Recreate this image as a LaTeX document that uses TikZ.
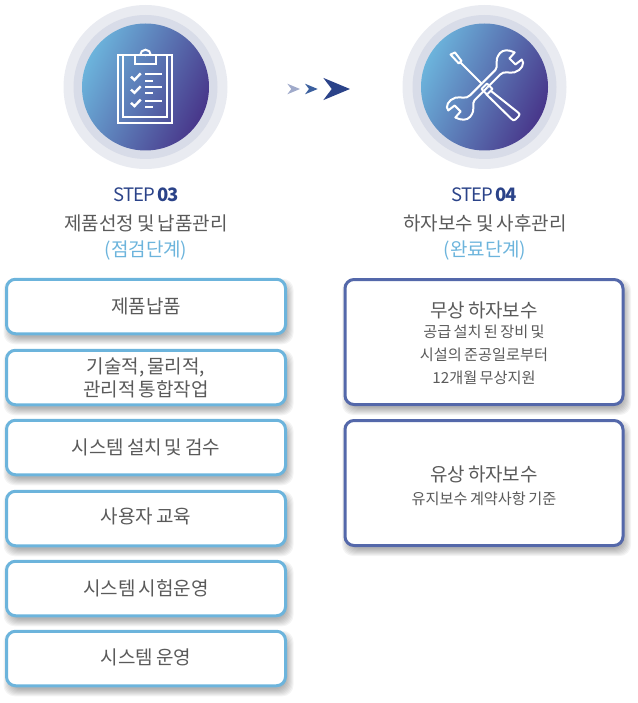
\documentclass[tikz,border=0pt]{standalone}
\usepackage{fontspec}
\setmainfont[WordSpace=0.7]{Noto Sans CJK KR}
\usetikzlibrary{positioning}
\usetikzlibrary{calc}
\usetikzlibrary{backgrounds}
\definecolor{skyblue}{RGB}{108,180,220}
\definecolor{deepblue}{RGB}{43,67,137}
\definecolor{steelblue}{RGB}{84,104,170}
\definecolor{indigo}{RGB}{72,54,138}
\definecolor{midblue}{RGB}{90,112,172}
\definecolor{bodygray}{RGB}{90,90,90}
\definecolor{ringout}{RGB}{233,235,241}
\definecolor{ringin}{RGB}{216,220,232}
\tikzset{
    itemtext/.style={text=bodygray, font=\fontsize{19}{23}\selectfont, align=center, inner sep=0pt},
    leftbox/.style={itemtext, draw=skyblue, fill=white, line width=3pt, rounded corners=9pt, minimum width=279pt, minimum height=54.5pt},
    rightbox/.style={itemtext, draw=steelblue, fill=white, line width=3pt, rounded corners=9pt, minimum width=278pt, minimum height=125pt},
    steptitle/.style={text=deepblue, font=\fontsize{18.5}{20}\selectfont\addfontfeature{LetterSpace=-3.8}, inner sep=0pt},
    phasetitle/.style={text=bodygray, font=\fontsize{19}{22}\selectfont, inner sep=0pt},
    phasenote/.style={text=skyblue, font=\fontsize{19}{22}\selectfont, inner sep=0pt},
    iconline/.style={draw=white, line width=2pt, line join=miter},
    toolline/.style={draw=white, line width=2pt, line join=round}
}
\newcommand{\smalltext}{\fontsize{15.2}{22}\selectfont}
\newcommand{\lifted}[2][2pt]{\raisebox{#1}[\height][\depth]{#2}}
\begin{document}
\begin{tikzpicture}[x=1pt, y=-1pt]
    \useasboundingbox (0,0) rectangle (637,703);

    % Draw badges
    \foreach \cx/\name in {145.5/badgeA, 484.5/badgeB} {
        \fill[ringout] (\cx,87) circle (82pt);
        \fill[ringin] (\cx,87) circle (72pt);
        \shade[left color=skyblue, middle color=midblue, right color=indigo, shading angle=65] (\cx,87) circle (63.5pt);
    }

    % Clipboard
    \draw[iconline] (118.3,55.3) rectangle (172.3,122.7);
    \draw[iconline] (123.3,55.3) -- (123.3,116.7) -- (167.3,116.7) -- (167.3,55.3);
    \draw[iconline] (135.2,55.3) rectangle (155.8,64.5);
    \draw[iconline] (140.2,55) arc (180:0:5.3pt);
    \fill[white] (145.5,55.5) circle (1pt);
    \foreach \y in {76.7,89.6,102.9} {
        \draw[iconline, line width=2.4pt] (131,\y) -- (134.5,\y+3.2) -- (140.7,\y-3.3);
        \draw[iconline] (145,\y-2.2) -- (161.7,\y-2.2);
        \draw[iconline] (145,\y+3.9) -- (153,\y+3.9);
    }

    % Wrench
    \foreach \a in {45,225} {
        \draw[toolline, shift={(485,85)}, rotate=\a] (0,-3.3) -- (18,-3.3)
            .. controls (23,-3.3) and (23,-11) .. (33,-12)
            .. controls (38,-12.5) and (42,-8) .. (44,-2) -- (36,-1.5) -- (36,7) -- (44,8)
            .. controls (44,13) and (36,15.5) .. (30,12)
            .. controls (25,9) and (24,3.3) .. (18,3.3) -- (0,3.3);
    }
    % Screwdriver
    \draw[toolline] (450.5,54.5) -- (455,52.5) -- (461.5,61) -- (458.8,63.5) -- cycle;
    \draw[toolline] (460.2,62.3) -- (482,84);
    \draw[toolline] (481.5,89) -- (487,83.5) -- (492.5,89) -- (487,94.5) -- cycle;
    \draw[toolline] (491,91) -- (517.5,112) .. controls (520,114) and (520,115) .. (518.5,116.5) -- (515.5,119.5)
        .. controls (514,121) and (513,120.5) .. (511,118.5) -- (486,94);

    % Draw arrows
    \foreach \x/\s/\c in {287.3/1/deepblue!45, 305/1/deepblue!75!skyblue, 323.3/2.1/deepblue} {
        \fill[\c] (\x,89-5.3*\s) -- (\x+12.7*\s,89) -- (\x,89+5.3*\s) -- (\x+4*\s,89) -- cycle;
    }

    % Headings
    \node[steptitle] (stepA) at (146,194.5) {STEP \textbf{03}};
    \node[phasetitle] (phaseA) at (146,223) {제품선정 및 납품관리};
    \node[phasenote] (noteA) at (146,251) {(점검단계)};
    \node[steptitle] (stepB) at (484,194.5) {STEP \textbf{04}};
    \node[phasetitle] (phaseB) at (485,223) {하자보수 및 사후관리};
    \node[phasenote] (noteB) at (485,251) {(완료단계)};

    % Item boxes
    \node[leftbox] (itemA) at (146,306.5) {제품납품};
    \node[leftbox] (itemB) at (146,377.5) {기술적, 물리적,\\관리적 통합작업};
    \node[leftbox] (itemC) at (146,447.5) {시스템 설치 및 검수};
    \node[leftbox] (itemD) at (146,518.5) {\lifted{사용자 교육}};
    \node[leftbox] (itemE) at (146,588.5) {시스템 시험운영};
    \node[leftbox] (itemF) at (146,658.5) {\lifted[1pt]{시스템 운영}};
    \node[rightbox] (itemG) at (484,342) {\lifted[-2.5pt]{무상 하자보수}\\\smalltext 공급 설치 된 장비 및\\\smalltext 시설의 준공일로부터\\\smalltext 12개월 무상지원};
    \node[rightbox] (itemH) at (484,483) {\lifted[-3pt]{유상 하자보수}\\\smalltext \lifted[-3pt]{유지보수 계약사항 기준}};

    % Soft shadows
    \begin{scope}[on background layer]
        \foreach \n in {itemA,itemB,itemC,itemD,itemE,itemF,itemG,itemH} {
            \foreach \g in {-3,-2,...,4} {
                \fill[black, opacity=0.045, rounded corners=11pt]
                    ($(\n.north west)+(2.5-\g,5-\g)$) rectangle ($(\n.south east)+(2.5+\g,5+\g)$);
            }
        }
    \end{scope}
\end{tikzpicture}
\end{document}
